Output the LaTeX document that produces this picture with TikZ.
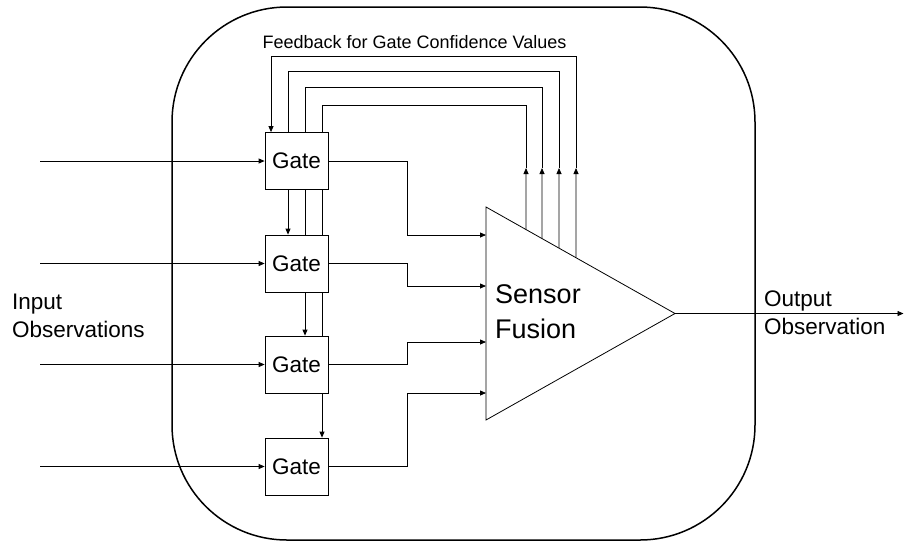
\documentclass[tikz,border=0pt]{standalone}
\usepackage{fontspec}
\setmainfont{Liberation Sans}
\usetikzlibrary{arrows.meta,calc}
\begin{document}
\begin{tikzpicture}[x=1pt,y=-1pt,
  wire/.style={line width=0.8pt},
  arr/.style={wire,-{Triangle[length=6pt,width=5pt]}},
  gatebox/.style={draw,line width=0.8pt,minimum width=63pt,minimum height=57pt,inner sep=0pt,font=\fontsize{22.5}{26}\selectfont,fill=white},
  lbl/.style={inner sep=0pt,align=left,anchor=north west}]
\useasboundingbox (0,0) rectangle (904,542);
% outer rounded box
\draw[line width=1.5pt,rounded corners=115pt] (172,7) rectangle (755,540);
% gates
\node[gatebox] (g1) at (296.5,161) {Gate};
\node[gatebox] (g2) at (296.5,263.5) {Gate};
\node[gatebox] (g3) at (296.5,364.5) {Gate};
\node[gatebox] (g4) at (296.5,466.5) {Gate};
% sensor fusion triangle
\coordinate (tA) at (486,207);
\coordinate (tB) at (486,420);
\coordinate (tC) at (675,313.5);
\draw[wire] (tA) -- (tC) -- (tB) -- cycle;
\node[lbl,font=\fontsize{27}{35}\selectfont] (sf) at (495,284) {Sensor\\Fusion};
% labels
\node[lbl,font=\fontsize{22.5}{27.5}\selectfont] (inl) at (12,294) {Input\\Observations};
\node[lbl,font=\fontsize{22.5}{27.5}\selectfont] (outl) at (764,291) {Output\\Observation};
\node[inner sep=0pt,font=\fontsize{18}{20}\selectfont] (fb) at (414.5,42) {Feedback for Gate Confidence Values};
% inputs
\coordinate (s1) at (40,161);
\coordinate (s2) at (40,263.5);
\coordinate (s3) at (40,364.5);
\coordinate (s4) at (40,466.5);
\draw[arr] (s1) -- (g1.west);
\draw[arr] (s2) -- (g2.west);
\draw[arr] (s3) -- (g3.west);
\draw[arr] (s4) -- (g4.west);
% gate outputs to fusion
\coordinate (i1) at (486,235);
\coordinate (i2) at (486,286);
\coordinate (i3) at (486,342);
\coordinate (i4) at (486,393);
\draw[arr] (g1.east) -- ++(79,0) |- (i1);
\draw[arr] (g2.east) -- ++(79,0) |- (i2);
\draw[arr] (g3.east) -- ++(79,0) |- (i3);
\draw[arr] (g4.east) -- ++(79,0) |- (i4);
% output
\coordinate (out) at (903.5,313.5);
\draw[arr] (tC) -- (out);
% feedback start points on the triangle edge
\coordinate (e1) at ($(tA)!{40/189}!(tC)$);
\coordinate (e2) at ($(tA)!{56/189}!(tC)$);
\coordinate (e3) at ($(tA)!{73/189}!(tC)$);
\coordinate (e4) at ($(tA)!{90/189}!(tC)$);
\coordinate (m1) at (526,168);
\coordinate (m2) at (542,168);
\coordinate (m3) at (559,168);
\coordinate (m4) at (576,168);
\draw[arr] (e1) -- (m1);
\draw[arr] (e2) -- (m2);
\draw[arr] (e3) -- (m3);
\draw[arr] (e4) -- (m4);
% feedback loops
\coordinate (j4) at (271,56);
\coordinate (j3) at (288,71);
\coordinate (j2) at (305,87);
\coordinate (j1) at (322,105);
\draw[arr] (m4) |- (j4) -- (j4 |- g1.north);
\draw[wire] (m3) |- (j3) -- (j3 |- g1.north);
\draw[wire] (m2) |- (j2) -- (j2 |- g1.north);
\draw[wire] (m1) |- (j1) -- (j1 |- g1.north);
% feedback passing down between gates
\draw[arr] (j3 |- g1.south) -- (j3 |- g2.north);
\draw[wire] (j2 |- g1.south) -- (j2 |- g2.north);
\draw[arr] (j2 |- g2.south) -- (j2 |- g3.north);
\draw[wire] (j1 |- g1.south) -- (j1 |- g2.north);
\draw[wire] (j1 |- g2.south) -- (j1 |- g3.north);
\draw[arr] (j1 |- g3.south) -- (j1 |- g4.north);
\end{tikzpicture}
\end{document}
